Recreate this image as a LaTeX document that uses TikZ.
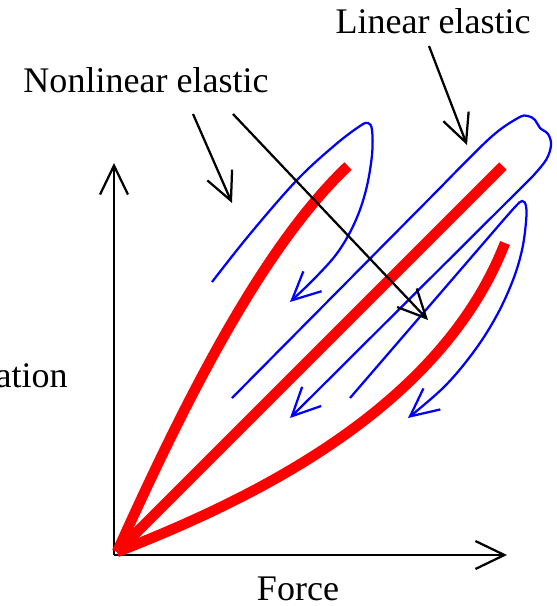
\documentclass[tikz,border=0pt]{standalone}
\usepackage{fontspec}
\setmainfont{Liberation Serif}
\usepackage{xcolor}
\usepackage{tikz}
\usetikzlibrary{arrows.meta}

\begin{document}
\begin{tikzpicture}[
x=0.02cm,
y=-0.02cm,
every node/.style={font=\fontsize{20.5}{24}\selectfont,inner sep=0pt},
loadaxis/.style={-{Straight Barb[length=5.8mm,width=5.6mm]},line width=0.045cm},
loadcurve/.style={draw=red,line width=0.21cm},
loadflow/.style={-{Straight Barb[length=5.6mm,width=5.4mm]},draw=blue,line width=0.045cm},
loadarr/.style={-{Straight Barb[length=5.6mm,width=5.4mm]},line width=0.045cm},
loadlbl/.style={anchor=base}
]
\useasboundingbox (0,0) rectangle (556,606);

% axes
\coordinate (axo) at (114,555);
\coordinate (ytip) at (114,163);
\coordinate (xtip) at (507,555);
\draw[loadaxis] (axo) -- (ytip);
\draw[loadaxis] (axo) -- (xtip);
\node[loadlbl,anchor=base east] (deform) at (68,387) {Deformation};
\node[loadlbl] (force) at (298,600) {Force};

% load curves
\coordinate (curveo) at (117,552);
\coordinate (nltop) at (348,166);
\coordinate (ltop) at (503,166);
\coordinate (stop) at (505,243);
\draw[loadcurve] (curveo) .. controls (190,390) and (265,245) .. (nltop);
\draw[loadcurve] (curveo) -- (ltop);
\draw[loadcurve] (curveo) .. controls (250,500) and (440,410) .. (stop);

% unloading loops
\draw[loadflow] plot[smooth,tension=0.6] coordinates {(212,282) (250,234) (297,180) (335,145) (360,126) (368,123) (372,130) (372,155) (366,190) (355,222) (338,252) (315,278) (290,302)};
\draw[loadflow] (232,398) -- plot[smooth,tension=0.6] coordinates {(440,188) (490,138) (518,118) (528,116) (535,120) (540,128) (548,134) (551,145) (546,160) (532,177)} -- (290,418);
\draw[loadflow] (350,398) -- plot[smooth,tension=0.6] coordinates {(500,224) (515,207) (522,201) (526,206) (526,222) (522,250) (513,280) (497,315) (475,350) (445,386) (408,418)};

% labels
\node[loadlbl] (nonlin) at (146,92) {Nonlinear elastic};
\node[loadlbl] (lin) at (433,33) {Linear elastic};
\coordinate (nonlinA) at (193,114);
\coordinate (nonlinB) at (233,114);
\coordinate (linA) at (429,46);
\coordinate (nonlinAt) at (232,203);
\coordinate (nonlinBt) at (428,320);
\coordinate (linAt) at (467,145);
\draw[loadarr] (nonlinA) -- (nonlinAt);
\draw[loadarr] (nonlinB) -- (nonlinBt);
\draw[loadarr] (linA) -- (linAt);
\end{tikzpicture}
\end{document}
